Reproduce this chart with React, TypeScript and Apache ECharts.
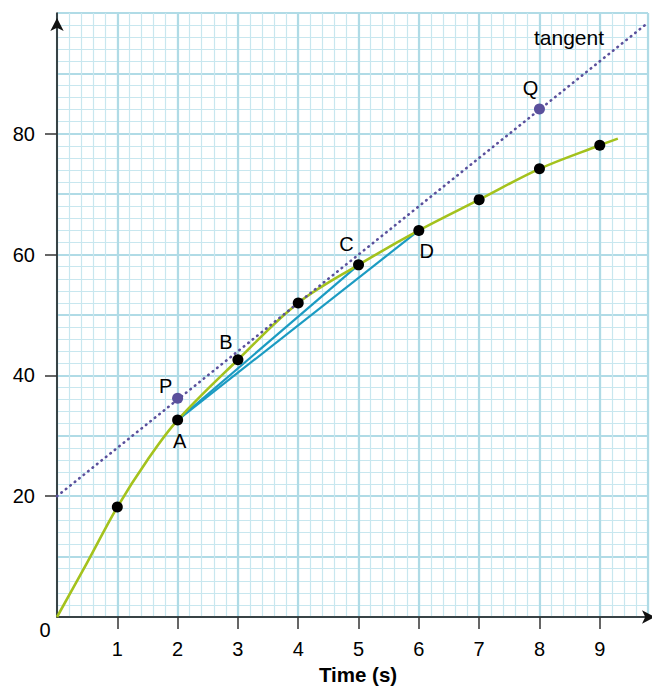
import React, { useEffect, useRef } from "react";
import * as echarts from "echarts";

// ---- data ----
const xMax = 9.8;
const yMax = 100;
const timeTicks = [1, 2, 3, 4, 5, 6, 7, 8, 9];
const valueTicks = [20, 40, 60, 80];

const measTime = [1, 2, 3, 4, 5, 6, 7, 8, 9];
const measValue = [18.2, 32.6, 42.6, 52.0, 58.3, 64.0, 69.1, 74.2, 78.1];
const measName = ["", "A", "B", "", "C", "D", "", "", ""];

const curveTime = [0, 0.5, 1, 1.5, 2, 3, 4, 5, 6, 7, 8, 9, 9.3];
const curveValue = [0, 9.0, 18.2, 26.0, 32.6, 42.6, 52.0, 58.3, 64.0, 69.1, 74.2, 78.1, 79.2];

const tangentTime = [0, 9.8];
const tangentValue = [20, 98.4];

const pqName = ["P", "Q"];
const pqTime = [2, 8];
const pqValue = [36.2, 84.1];

// chords from A to C and from A to D
const chordAC = [
  [2, 32.6],
  [5, 58.3],
];
const chordAD = [
  [2, 32.6],
  [6, 64.0],
];

const tangentLabelAt = [8.49, 95.9];

// ---- styles ----
const FONT = "Liberation Sans, Arial, Helvetica, sans-serif";
const GREEN = "#a4c21d";
const BLUE = "#1b9bc2";
const PURPLE = "#5a509c";
const MINOR = "#c8e7ef";
const MAJOR = "#b0dbe6";

const labelOffsets: Record<string, [number, number]> = {
  A: [2, 21],
  B: [-12, -18],
  C: [-12, -21],
  D: [8, 21],
  P: [-12, -12],
  Q: [-9, -21],
};

export default function App() {
  const ref = useRef<HTMLDivElement>(null);

  useEffect(() => {
    if (!ref.current) return;
    const chart = echarts.init(ref.current, undefined, { renderer: "svg" });

    const gridAxisBase = {
      type: "value" as const,
      min: 0,
      axisLine: { show: false },
      axisTick: { show: false },
      axisLabel: { show: false },
    };

    const textStyle = { fontFamily: FONT, fontSize: 20, color: "#000" };

    const measData = measTime.map((t, i) => {
      const name = measName[i];
      const item: any = { value: [t, measValue[i]], name };
      if (name) {
        item.label = {
          show: true,
          formatter: name,
          position: "inside",
          offset: labelOffsets[name],
          ...textStyle,
        };
      }
      return item;
    });

    const pqData = pqTime.map((t, i) => ({
      value: [t, pqValue[i]],
      name: pqName[i],
      label: {
        show: true,
        formatter: pqName[i],
        position: "inside",
        offset: labelOffsets[pqName[i]],
        ...textStyle,
      },
    }));

    chart.setOption({
      animation: false,
      backgroundColor: "#ffffff",
      grid: {
        left: 57,
        right: 4,
        top: 13,
        bottom: 72,
        containLabel: false,
        outerBoundsMode: "none",
      },
      xAxis: [
        {
          ...gridAxisBase,
          position: "bottom",
          max: xMax,
          interval: 0.2,
          splitLine: { show: true, lineStyle: { color: MINOR, width: 1.2 } },
        },
        {
          ...gridAxisBase,
          position: "bottom",
          max: xMax,
          interval: 1,
          splitLine: { show: true, lineStyle: { color: MAJOR, width: 2.2 } },
        },
        {
          type: "value",
          position: "bottom",
          min: 0,
          max: xMax,
          interval: 1,
          name: "Time (s)",
          nameLocation: "middle",
          nameGap: 47,
          nameTextStyle: {
            fontFamily: FONT,
            fontSize: 20.5,
            fontWeight: "bold",
            color: "#000",
            padding: [0, 0, 0, 11],
          },
          splitLine: { show: false },
          axisLine: {
            show: true,
            onZero: false,
            lineStyle: { color: "#111", width: 1.5 },
            symbol: ["none", "arrow"],
            symbolSize: [10, 13],
            symbolOffset: [0, 7],
          },
          axisTick: {
            show: true,
            customValues: timeTicks,
            length: 12,
            lineStyle: { color: "#333", width: 1.5 },
          },
          axisLabel: {
            show: true,
            customValues: timeTicks,
            margin: 22,
            ...textStyle,
          },
        },
      ],
      yAxis: [
        {
          ...gridAxisBase,
          position: "left",
          max: yMax,
          interval: 2,
          splitLine: { show: true, lineStyle: { color: MINOR, width: 1.2 } },
        },
        {
          ...gridAxisBase,
          position: "left",
          max: yMax,
          interval: 10,
          splitLine: { show: true, lineStyle: { color: MAJOR, width: 2.2 } },
        },
        {
          type: "value",
          position: "left",
          min: 0,
          max: yMax,
          interval: 20,
          splitLine: { show: false },
          axisLine: {
            show: true,
            onZero: false,
            lineStyle: { color: "#111", width: 1.5 },
            symbol: ["none", "arrow"],
            symbolSize: [10, 13],
            symbolOffset: [0, -5],
          },
          axisTick: {
            show: true,
            customValues: valueTicks,
            length: 12,
            lineStyle: { color: "#333", width: 1.5 },
          },
          axisLabel: {
            show: true,
            customValues: valueTicks,
            margin: 22,
            ...textStyle,
          },
        },
      ],
      graphic: [
        {
          type: "text",
          x: 45,
          y: 630,
          style: {
            text: "0",
            fill: "#000",
            font: `20px ${FONT}`,
            align: "center",
            verticalAlign: "middle",
          },
        },
      ],
      series: [
        {
          type: "line",
          xAxisIndex: 2,
          yAxisIndex: 2,
          data: curveTime.map((t, i) => [t, curveValue[i]]),
          smooth: 0.35,
          symbol: "none",
          lineStyle: { color: GREEN, width: 2.6 },
          z: 3,
        },
        {
          type: "line",
          xAxisIndex: 2,
          yAxisIndex: 2,
          data: chordAC,
          symbol: "none",
          lineStyle: { color: BLUE, width: 2.2 },
          z: 2,
        },
        {
          type: "line",
          xAxisIndex: 2,
          yAxisIndex: 2,
          data: chordAD,
          symbol: "none",
          lineStyle: { color: BLUE, width: 2.2 },
          z: 2,
        },
        {
          type: "line",
          xAxisIndex: 2,
          yAxisIndex: 2,
          data: tangentTime.map((t, i) => [t, tangentValue[i]]),
          symbol: "none",
          lineStyle: { color: PURPLE, width: 2.6, type: [0.5, 5.2], cap: "round" },
          z: 4,
          markPoint: {
            symbol: "circle",
            symbolSize: 0,
            data: [
              {
                coord: tangentLabelAt,
                label: {
                  show: true,
                  formatter: "tangent",
                  position: "inside",
                  ...textStyle,
                  fontSize: 21,
                },
              },
            ],
          },
        },
        {
          type: "scatter",
          xAxisIndex: 2,
          yAxisIndex: 2,
          data: pqData,
          symbolSize: 11,
          itemStyle: { color: PURPLE, opacity: 1 },
          z: 5,
        },
        {
          type: "scatter",
          xAxisIndex: 2,
          yAxisIndex: 2,
          data: measData,
          symbolSize: 11,
          itemStyle: { color: "#000", opacity: 1 },
          z: 6,
        },
      ],
    });

    return () => chart.dispose();
  }, []);

  return (
    <div
      ref={ref}
      style={{ position: "fixed", left: 0, top: 0, width: 652, height: 689 }}
    />
  );
}
